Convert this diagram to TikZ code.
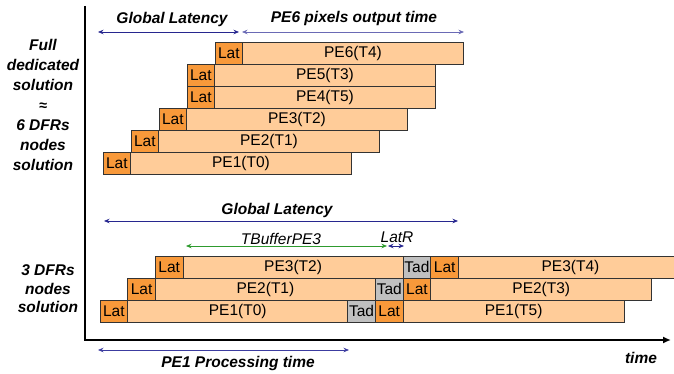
\documentclass[tikz,border=0pt]{standalone}
\usepackage{fontspec}
\setmainfont{Liberation Sans}
\usepackage{tikz}
\usetikzlibrary{positioning,arrows.meta}

\definecolor{peorange}{HTML}{FFCC99}
\definecolor{latorange}{HTML}{F8993A}
\definecolor{tadgray}{HTML}{C0C0C0}
\definecolor{navyarrow}{HTML}{27278F}
\definecolor{lightarrow}{HTML}{6A6AB5}
\definecolor{midarrow}{HTML}{3C3CA0}
\definecolor{greenarrow}{HTML}{2E9B2E}

\begin{document}
\begin{tikzpicture}[x=1pt, y=-1pt,
  font=\fontsize{15.5}{20}\selectfont,
  box/.style={draw=black!80, line width=0.8pt, minimum height=22pt, inner sep=0pt, outer sep=0pt},
  lat/.style={box, fill=latorange, minimum width=27.7pt},
  tad/.style={box, fill=tadgray, minimum width=27.7pt},
  pe/.style={box, fill=peorange},
  lbl/.style={font=\fontsize{15.5}{20}\selectfont\bfseries\itshape},
  span/.style={line width=0.7pt, {Stealth[length=5.5pt,width=4.5pt]}-{Stealth[length=5.5pt,width=4.5pt]}}]
\useasboundingbox (0,0) rectangle (674,374);

% axes
\draw[line width=2pt] (85,6) -- (85,340);
\draw[line width=2pt, -{Latex[length=8pt,width=7pt]}] (84,340) -- (671,340);
\node[lbl] (time) at (641,358) {time};

% left labels
\node[lbl, align=center] (full) at (43,105) {Full\\dedicated\\solution\\{\Large ≈}\\6 DFRs\\nodes\\solution};
\node[lbl, align=center, font=\fontsize{15.5}{18.5}\selectfont\bfseries\itshape] (three) at (48,289) {3 DFRs\\nodes\\solution};

% full dedicated solution
\node[lat, anchor=north west] (tl1) at (103,152) {Lat};
\node[pe, minimum width=220.5pt, right=0pt of tl1] (tp1) {PE1(T0)};
\node[lat, anchor=north west] (tl2) at (131,130) {Lat};
\node[pe, minimum width=220.5pt, right=0pt of tl2] (tp2) {PE2(T1)};
\node[lat, anchor=north west] (tl3) at (159,108) {Lat};
\node[pe, minimum width=220.5pt, right=0pt of tl3] (tp3) {PE3(T2)};
\node[lat, anchor=north west] (tl4) at (187,86) {Lat};
\node[pe, minimum width=220.5pt, right=0pt of tl4] (tp4) {PE4(T5)};
\node[lat, anchor=north west] (tl5) at (187,64) {Lat};
\node[pe, minimum width=220.5pt, right=0pt of tl5] (tp5) {PE5(T3)};
\node[lat, anchor=north west] (tl6) at (215,42) {Lat};
\node[pe, minimum width=220.5pt, right=0pt of tl6] (tp6) {PE6(T4)};

\coordinate (gla) at (98,32);
\coordinate (glb) at (239,32);
\coordinate (pxa) at (242,32);
\coordinate (pxb) at (464,32);
\draw[span, navyarrow] (gla) -- (glb);
\draw[span, lightarrow] (pxa) -- (pxb);
\node[lbl] (gltop) at (172,19) {Global Latency};
\node[lbl] (pxtop) at (354,18) {PE6 pixels output time};

% 3 DFRs nodes solution
\node[lat, anchor=north west] (bl1) at (100,300) {Lat};
\node[pe, minimum width=220pt, right=0pt of bl1] (bp1) {PE1(T0)};
\node[tad, right=0pt of bp1] (bt1) {Tad};
\node[lat, right=0pt of bt1] (bm1) {Lat};
\node[pe, minimum width=221pt, right=0pt of bm1] (bq1) {PE1(T5)};

\node[lat, anchor=north west] (bl2) at (127.7,278) {Lat};
\node[pe, minimum width=220pt, right=0pt of bl2] (bp2) {PE2(T1)};
\node[tad, right=0pt of bp2] (bt2) {Tad};
\node[lat, right=0pt of bt2] (bm2) {Lat};
\node[pe, minimum width=221pt, right=0pt of bm2] (bq2) {PE2(T3)};

\node[lat, anchor=north west] (bl3) at (155.4,256) {Lat};
\node[pe, minimum width=220pt, right=0pt of bl3] (bp3) {PE3(T2)};
\node[tad, right=0pt of bp3] (bt3) {Tad};
\node[lat, right=0pt of bt3] (bm3) {Lat};
\node[pe, minimum width=224pt, right=0pt of bm3] (bq3) {PE3(T4)};

\coordinate (bga) at (104,221);
\coordinate (bgb) at (458,221);
\coordinate (tba) at (186,246);
\coordinate (tbb) at (387,246);
\coordinate (lra) at (388,246);
\coordinate (lrb) at (404,246);
\coordinate (ppa) at (98,350);
\coordinate (ppb) at (349,350);
\draw[span, navyarrow] (bga) -- (bgb);
\draw[span, greenarrow] (tba) -- (tbb);
\draw[span, navyarrow] (lra) -- (lrb);
\draw[span, midarrow] (ppa) -- (ppb);
\node[lbl] (glbot) at (277,210) {Global Latency};
\node[font=\fontsize{15.5}{20}\selectfont\itshape] (tbuf) at (281,239) {TBufferPE3};
\node[font=\fontsize{15.5}{20}\selectfont\itshape] (latr) at (397,237) {LatR};
\node[lbl] (pptime) at (238,363) {PE1 Processing time};
\end{tikzpicture}
\end{document}
